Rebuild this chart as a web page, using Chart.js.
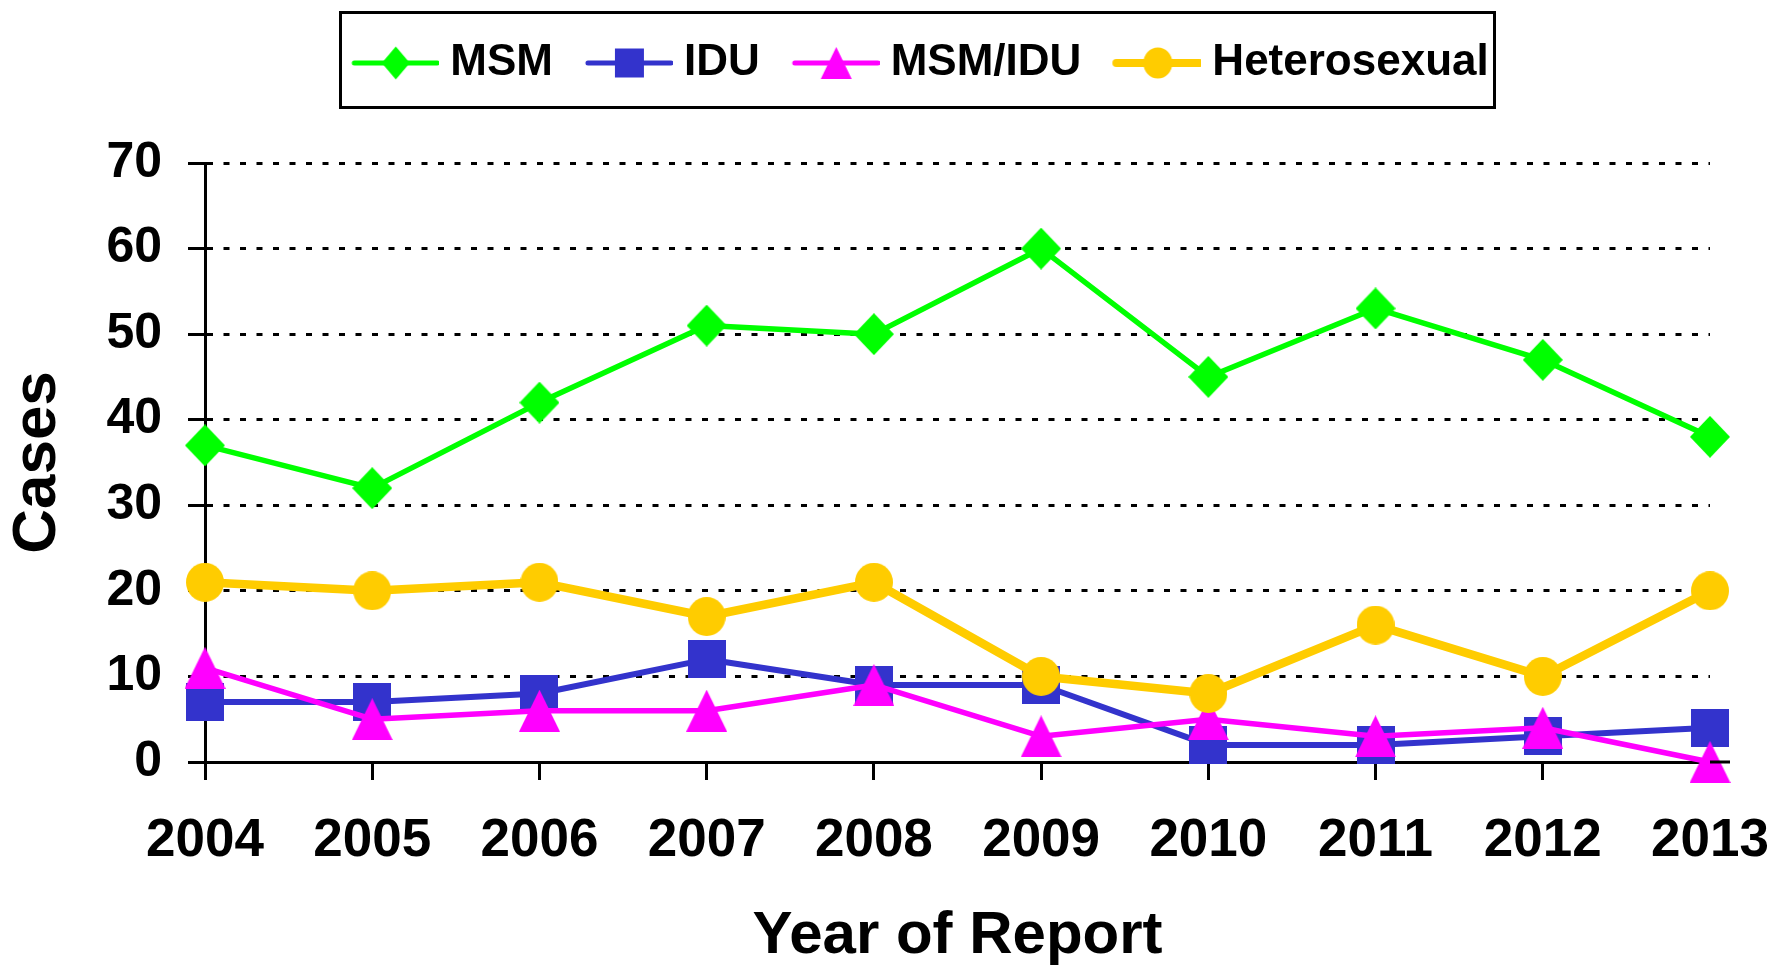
<!DOCTYPE html>
<html>
<head>
<meta charset="utf-8">
<script src="https://cdn.jsdelivr.net/npm/chart.js@4.4.0/dist/chart.umd.min.js"></script>
<style>
html,body{margin:0;padding:0;background:#ffffff;}
#wrap{width:1781px;height:967px;position:relative;}
</style>
</head>
<body>
<div id="wrap"><canvas id="c"></canvas></div>
<script>
// ---- data ----
const years = ['2004','2005','2006','2007','2008','2009','2010','2011','2012','2013'];
const msm = [37, 32, 42, 51, 50, 60, 45, 53, 47, 38];
const idu = [7, 7, 8, 12, 9, 9, 2, 2, 3, 4];
const msmIdu = [11, 5, 6, 6, 9, 3, 5, 3, 4, 0];
const hetero = [21, 20, 21, 17, 21, 10, 8, 16, 10, 20];
const seriesNames = ['MSM', 'IDU', 'MSM/IDU', 'Heterosexual'];
const yTickValues = [0, 10, 20, 30, 40, 50, 60, 70];
const xTitle = 'Year of Report';
const yTitle = 'Cases';

// ---- styles ----
const FONT = "'Liberation Sans', Arial, Helvetica, sans-serif";
const colors = ['#00FF00', '#3333CC', '#FF00FF', '#FFCC00'];
const shapes = ['diamond', 'square', 'triangle', 'circle'];
const lineWidths = [5.5, 6, 5.5, 8.5];
const markerSizes = [[40, 42], [38, 38], [41, 42], [38, 39]];
const legendMarkerSizes = [[28, 33], [29, 29], [31, 32], [29, 31]];
const legendLineWidths = [5, 5, 5, 8];

function drawShape(g, shape, cx, cy, w, h) {
  g.beginPath();
  if (shape === 'diamond') {
    g.moveTo(cx, cy - h / 2); g.lineTo(cx + w / 2, cy); g.lineTo(cx, cy + h / 2); g.lineTo(cx - w / 2, cy);
  } else if (shape === 'square') {
    g.rect(cx - w / 2, cy - h / 2, w, h);
  } else if (shape === 'triangle') {
    g.moveTo(cx, cy - h / 2); g.lineTo(cx + w / 2, cy + h / 2); g.lineTo(cx - w / 2, cy + h / 2);
  } else {
    g.ellipse(cx, cy, w / 2, h / 2, 0, 0, Math.PI * 2);
  }
  g.closePath();
  g.fill();
}
function markerCanvas(i) {
  const [w, h] = markerSizes[i];
  const c = document.createElement('canvas');
  c.width = w; c.height = h;
  const g = c.getContext('2d');
  g.fillStyle = colors[i];
  drawShape(g, shapes[i], w / 2, h / 2, w, h);
  return c;
}
function legendCanvas(i) {
  const c = document.createElement('canvas');
  c.width = 98; c.height = 44;
  const g = c.getContext('2d');
  g.strokeStyle = colors[i];
  g.lineWidth = legendLineWidths[i];
  g.lineCap = 'round';
  g.beginPath(); g.moveTo(13, 22); g.lineTo(96, 22); g.stroke();
  g.fillStyle = colors[i];
  const [w, h] = legendMarkerSizes[i];
  drawShape(g, shapes[i], 54.5, 22, w, h);
  return c;
}

const seriesData = [msm, idu, msmIdu, hetero];
const datasets = seriesData.map((d, i) => ({
  label: seriesNames[i],
  data: d,
  borderColor: colors[i],
  backgroundColor: colors[i],
  borderWidth: lineWidths[i],
  borderJoinStyle: 'round',
  borderCapStyle: 'round',
  tension: 0,
  fill: false,
  pointStyle: markerCanvas(i),
  pointRadius: 20,
  pointHoverRadius: 20,
  clip: false,
  order: 4 - i
}));
const legendIcons = seriesNames.map((_, i) => legendCanvas(i));

const legendFrame = {
  id: 'legendFrame',
  afterLayout(chart) {
    const lg = chart.legend;
    const dx = 920.5 - (lg.left + lg.right) / 2;
    lg.left += dx; lg.right += dx;
  },
  afterDraw(chart) {
    const lg = chart.legend;
    const cx = (lg.left + lg.right) / 2 - 3;
    const ctx = chart.ctx;
    ctx.save();
    ctx.strokeStyle = '#000';
    ctx.lineWidth = 3;
    ctx.strokeRect(cx - 577, 12.5, 1154, 95);
    // short extension of the category axis past the last category, as in the original
    const xs = chart.scales.x;
    const yPix = chart.scales.y.getPixelForValue(0);
    ctx.lineWidth = 3;
    ctx.beginPath();
    ctx.moveTo(xs.right, yPix);
    ctx.lineTo(xs.right + 20, yPix);
    ctx.stroke();
    ctx.restore();
  }
};

Chart.defaults.font.family = FONT;
Chart.defaults.font.weight = 'bold';
Chart.defaults.color = '#000';

new Chart(document.getElementById('c'), {
  type: 'line',
  data: { labels: years, datasets },
  plugins: [legendFrame],
  options: {
    responsive: true,
    maintainAspectRatio: false,
    animation: false,
    layout: { padding: { top: 8, right: 71, bottom: 0, left: 0 } },
    plugins: {
      tooltip: { enabled: false },
      legend: {
        position: 'top',
        labels: {
          usePointStyle: true,
          pointStyleWidth: 76,
          padding: 33,
          color: '#000',
          font: { size: 44, weight: 'bold', family: FONT },
          generateLabels(chart) {
            return chart.data.datasets.map((ds, i) => ({
              text: ds.label,
              pointStyle: legendIcons[i],
              fillStyle: ds.borderColor,
              strokeStyle: ds.borderColor,
              lineWidth: 0,
              hidden: !chart.isDatasetVisible(i),
              datasetIndex: i,
              fontColor: '#000'
            }));
          }
        }
      },
      subtitle: {
        display: true,
        text: ' ',
        position: 'top',
        weight: 500,
        font: { size: 10, lineHeight: 1 },
        padding: { top: 29, bottom: 29 }
      }
    },
    scales: {
      x: {
        type: 'category',
        offset: false,
        grid: {
          display: true,
          drawOnChartArea: false,
          drawTicks: true,
          tickLength: 18,
          tickWidth: 3,
          tickColor: '#000',
          color: '#000',
          lineWidth: 3
        },
        border: { display: true, color: '#000', width: 3 },
        ticks: {
          color: '#000',
          padding: 30,
          maxRotation: 0,
          autoSkip: false,
          font: { size: 53, weight: 'bold', family: FONT }
        },
        title: {
          display: true,
          text: xTitle,
          color: '#000',
          font: { size: 60, weight: 'bold', family: FONT, lineHeight: 1 },
          padding: { top: 0, bottom: 1 }
        },
        afterFit(scale) {
          scale.height = 205;
          scale.paddingLeft = 0;
          scale.paddingRight = 0;
        }
      },
      y: {
        min: 0,
        max: 70,
        afterBuildTicks(scale) { scale.ticks = yTickValues.map(v => ({ value: v })); },
        grid: {
          display: true,
          drawOnChartArea: true,
          drawTicks: true,
          color: '#000',
          lineWidth: 3,
          tickLength: 17,
          tickWidth: 3,
          tickColor: '#000',
          tickBorderDash: []
        },
        border: { display: true, color: '#000', width: 3, dash: [6, 10.5] },
        ticks: {
          color: '#000',
          padding: 26,
          font: { size: 50, weight: 'bold', family: FONT }
        },
        title: {
          display: true,
          text: yTitle,
          color: '#000',
          font: { size: 62, weight: 'bold', family: FONT, lineHeight: 1 },
          padding: { top: 7, bottom: 0 }
        },
        afterFit(scale) { scale.width = 205; }
      }
    }
  }
});
</script>
</body>
</html>
